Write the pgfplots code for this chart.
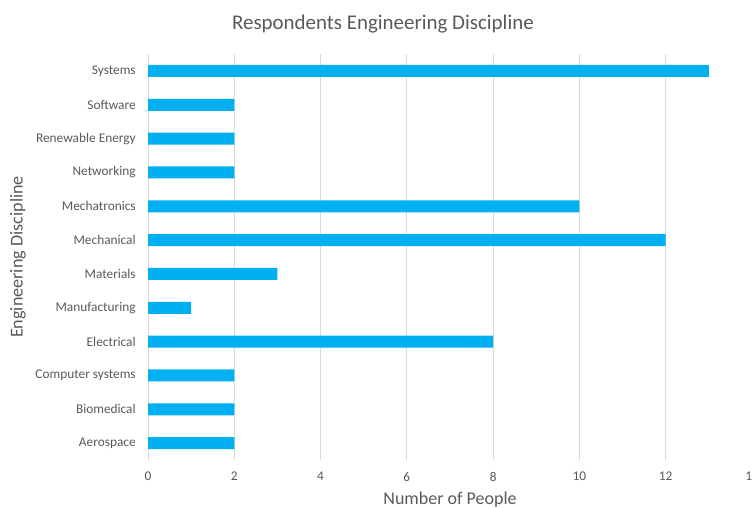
\documentclass[border=0pt]{standalone}
\usepackage{pgfplots}
\pgfplotsset{compat=1.18}
\usepackage{fontspec}
\setmainfont{Carlito}
\definecolor{barblue}{HTML}{00B0F0}
\definecolor{txt}{HTML}{595959}
\definecolor{gridc}{HTML}{D9D9D9}
\begin{document}
\begin{tikzpicture}
\begin{axis}[
  at={(111pt,36pt)}, anchor=south west,
  scale only axis, width=453pt, height=304.5pt,
  xbar, bar width=9pt,
  xmin=0, xmax=14, ymin=-0.5, ymax=11.5,
  xtick={0,2,...,14}, ytick={0,...,11},
  yticklabels={Aerospace,Biomedical,Computer systems,Electrical,Manufacturing,Materials,Mechanical,Mechatronics,Networking,Renewable Energy,Software,Systems},
  axis line style={draw=none}, major tick length=0pt,
  xmajorgrids, grid style={gridc, line width=0.75pt},
  tick label style={text=txt, font=\fontsize{10}{12}\selectfont},
  /pgf/number format/assume math mode=true,
  xticklabel style={yshift=-5.5pt},
  yticklabel style={xshift=-5.7pt},
  title={Respondents Engineering Discipline},
  title style={at={([yshift=16.5pt]axis description cs:0.389,1)}, anchor=center, text=txt, font=\fontsize{15.7}{18}\selectfont},
  xlabel={Number of People},
  xlabel style={at={([yshift=-30pt]axis description cs:0.5,0)}, anchor=center, text=txt, font=\fontsize{13.5}{16}\selectfont},
  ylabel={Engineering Discipline},
  ylabel style={at={([xshift=-97.5pt]axis description cs:0,0.5)}, anchor=center, rotate=0, text=txt, font=\fontsize{13.6}{16}\selectfont},
]
\addplot[fill=barblue, draw=none] coordinates {
  (2,0) (2,1) (2,2) (8,3) (1,4) (3,5) (12,6) (10,7) (2,8) (2,9) (2,10) (13,11)
};
\end{axis}
\pgfresetboundingbox
\useasboundingbox (0pt,0pt) rectangle (564pt,381pt);
\end{tikzpicture}
\end{document}
